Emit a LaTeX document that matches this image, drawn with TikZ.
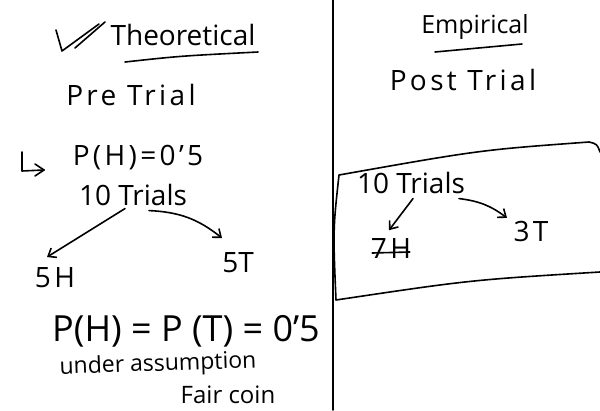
\documentclass[tikz,border=0pt]{standalone}
\usepackage{fontspec}
\setmainfont{Open Sans}
\usetikzlibrary{arrows.meta}
\begin{document}
\begin{tikzpicture}[x=1pt,y=-1pt,line width=1.6pt,line cap=round,line join=round,
  ink node/.style={inner sep=0pt,font=\fontsize{28}{28}\selectfont},
  wide node/.style={inner sep=0pt,font=\fontsize{28}{28}\selectfont\addfontfeatures{LetterSpace=12}},
  big node/.style={inner sep=0pt,font=\fontsize{36}{36}\selectfont},
  pen arrow/.style={-{Straight Barb[length=7pt,width=11pt]}}]

  \useasboundingbox[fill=white] (0,0) rectangle (600,410);

  % left half: theoretical
  \node[ink node] at (183,35) (theo) {Theoretical};
  \node[wide node] at (131,95) (pre) {Pre Trial};
  \node[wide node] at (138,158) (probL) {P(H)=0'5};
  \node[ink node] at (133,195) (trialsL) {10 Trials};
  \node[wide node] at (55,278) (headsL) {5H};
  \node[ink node] at (238,263) (tailsL) {5T};
  \node[big node] at (186,331) (fair) {P(H) = P (T) = 0'5};
  \node[ink node,font=\fontsize{23}{23}\selectfont,rotate=2] at (158,365) (assume) {under assumption};
  \node[ink node,font=\fontsize{24}{24}\selectfont] at (228,395) (coin) {Fair coin};

  \coordinate (hooktop) at (22,152);
  \coordinate (hookend) at (44,170);

  % right half: empirical
  \node[ink node,font=\fontsize{25}{25}\selectfont] at (475,27) (emp) {Empirical};
  \node[wide node] at (463,80) (post) {Post Trial};
  \node[ink node] at (411,183) (trialsR) {10 Trials};
  \node[wide node] at (391,249) (headsR) {7H};
  \node[wide node] at (531,231) (tailsR) {3T};

  % marks and divider
  \draw (56,30) -- (62,51) -- (99,24);
  \draw (75,48) -- (105,22);
  \draw (125,62) .. controls (180,56) .. (258,52);
  \draw (435,52) -- (522,44);
  \draw (333,0) -- (333,410);
  \draw (hooktop) -- (22,171) -- (hookend);
  \draw (35,164) -- (hookend) -- (35,176);
  \draw ([xshift=2pt,yshift=-4pt]headsR.west) -- ([xshift=-2pt,yshift=-3pt]headsR.east);

  % box of trials
  \draw (600,152) .. controls (597,144) .. (589,142)
    .. controls (480,150) .. (339,175)
    .. controls (333,230) .. (336,300)
    .. controls (470,280) .. (600,272);

  \path[pen arrow]
    ([xshift=-8pt,yshift=-2pt]trialsL.south) edge ([xshift=-8pt,yshift=10pt]headsL.north)
    ([xshift=16pt,yshift=-4pt]trialsL.south) edge[bend left=18] ([xshift=-16pt,yshift=14pt]tailsL.north)
    ([xshift=2pt,yshift=-4pt]trialsR.south) edge ([xshift=-2pt,yshift=8pt]headsR.north)
    ([xshift=48pt,yshift=-4pt]trialsR.south) edge[bend left=15] ([xshift=-24pt,yshift=2pt]tailsR.north)
    ;
\end{tikzpicture}
\end{document}
